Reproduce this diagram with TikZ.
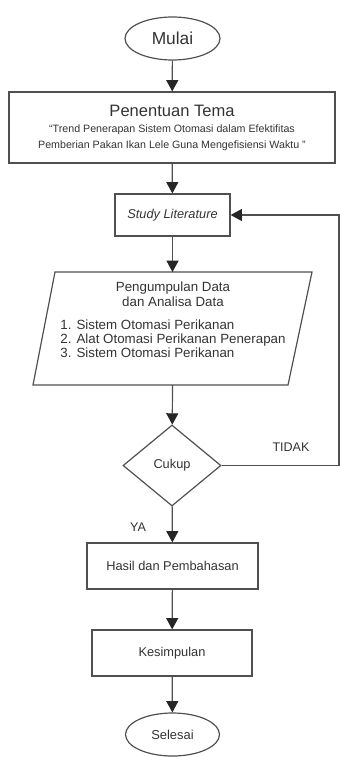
\documentclass[tikz,border=0pt]{standalone}
\usepackage{fontspec}
\setmainfont{Liberation Sans}
\usetikzlibrary{shapes.geometric,arrows.meta}

\definecolor{lineGray}{HTML}{505050}
\definecolor{textGray}{HTML}{333333}

\tikzset{every picture/.style={line width=0.9pt}}
\tikzset{
  flowline/.style={draw=lineGray,-{Triangle[length=8.5pt,width=9pt,fill=black!85,color=black!85]}},
  plainline/.style={draw=lineGray},
  terminal/.style={ellipse,draw=lineGray,inner sep=0pt,text=textGray},
  procbox/.style={rectangle,draw=lineGray,inner sep=0pt,text=textGray,font=\fontsize{9.6}{11.5}\selectfont},
  decision/.style={diamond,draw=lineGray,inner sep=0pt,text=textGray,font=\fontsize{9.6}{11.5}\selectfont},
  lbl/.style={inner sep=0.75pt,text=textGray,font=\fontsize{9.4}{11}\selectfont}
}

\begin{document}
\begin{tikzpicture}[x=0.75pt,y=0.75pt,yscale=-1,xscale=1]
		\useasboundingbox (0,0) rectangle (340,757);
		
		%Shape: Ellipse
		\node [terminal,minimum width=71.25pt,minimum height=32.25pt,font=\fontsize{13}{15}\selectfont] (mulai) at (172.5,38.5) {Mulai};
		%Shape: Rectangle
		\node [procbox,minimum width=244.5pt,minimum height=53.25pt,align=center] (tema) at (172,127.5) {{\fontsize{12.4}{14}\selectfont Penentuan Tema}\\[1pt]{\fontsize{8}{9.3}\selectfont ``Trend Penerapan Sistem Otomasi dalam Efektifitas}\\{\fontsize{8}{9.3}\selectfont Pemberian Pakan Ikan Lele Guna Mengefisiensi Waktu ''}};
		%Shape: Rectangle
		\node [procbox,minimum width=86.25pt,minimum height=31.5pt] (study) at (172.5,215) {\itshape Study Literature};
		%Shape: Parallelogram
		\draw [lineGray] (55,272) -- (312,272) -- (288,385) -- (33,385) -- cycle;
		\coordinate (datatop) at (172.5,272);
		\coordinate (databot) at (172.5,385);
		% Text Node
		\node [inner sep=0pt,text=textGray,font=\fontsize{10}{11.2}\selectfont,align=center] (datatext) at (173,321.5) {Pengumpulan Data\\dan Analisa Data\\[9pt]\begin{tabular}{@{}l@{}}1. Sistem Otomasi Perikanan\\[-1pt]2. Alat Otomasi Perikanan Penerapan\\[-1pt]3. Sistem Otomasi Perikanan\end{tabular}};
		%Shape: Diamond
		\node [decision,minimum width=73.5pt,minimum height=60.75pt] (cukup) at (172,465.5) {Cukup};
		%Shape: Rectangle
		\node [procbox,minimum width=128.25pt,minimum height=34.5pt] (hasil) at (172.5,566) {Hasil dan Pembahasan};
		%Shape: Rectangle
		\node [procbox,minimum width=120pt,minimum height=34.5pt] (simpul) at (172,653) {Kesimpulan};
		%Shape: Ellipse
		\node [terminal,minimum width=70.5pt,minimum height=32.25pt,font=\fontsize{9.7}{11.5}\selectfont] (selesai) at (172.5,734.5) {Selesai};
		
		%Straight Lines
		\draw [flowline] (mulai) -- (tema);
		\draw [flowline] (tema) -- (study);
		\draw [flowline] (study) -- (datatop);
		\draw [flowline] (databot) -- (cukup);
		\draw [flowline] (cukup) -- (hasil);
		\draw [flowline] (hasil) -- (simpul);
		\draw [flowline] (simpul) -- (selesai);
		%Straight Lines: back to study
		\coordinate (back) at (339,465.5);
		\draw [plainline] (cukup.east) -- (back);
		\draw [flowline] (back) |- (study.east);
		
		% Text Node
		\node [lbl] (tidak) at (291,447) {TIDAK};
		% Text Node
		\node [lbl] (ya) at (138,527) {YA};
	\end{tikzpicture}
\end{document}
